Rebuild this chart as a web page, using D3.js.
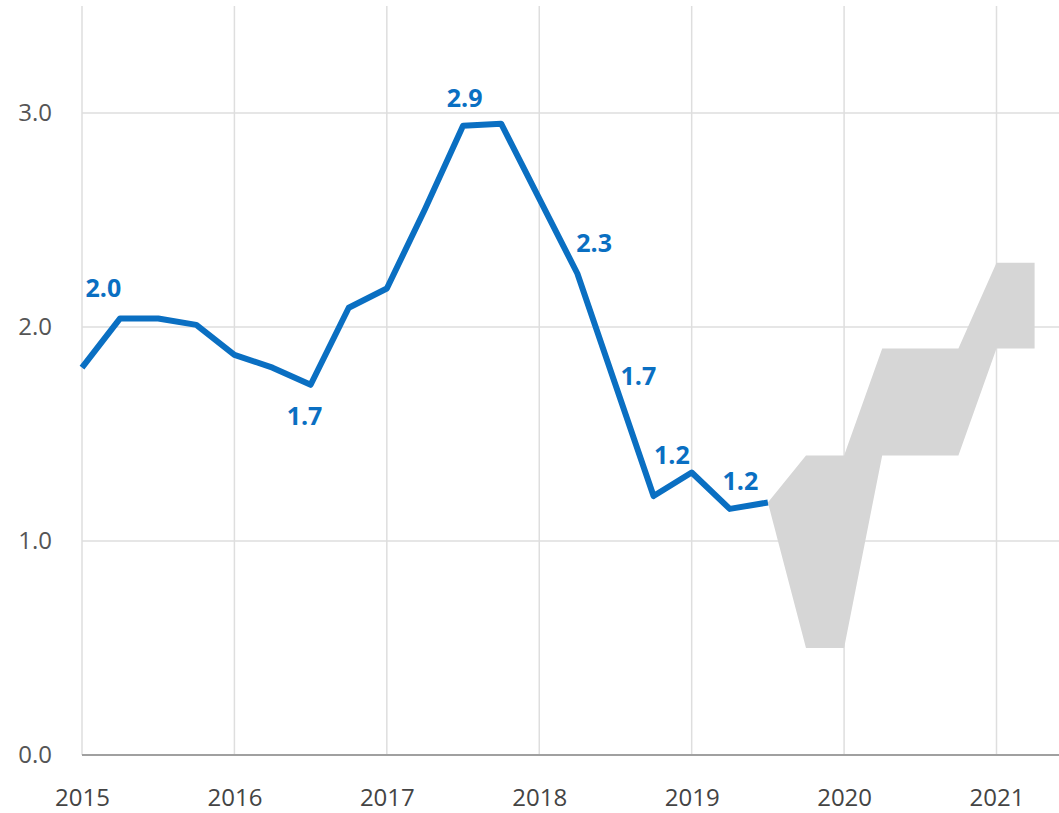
<!DOCTYPE html>
<html>
<head>
<meta charset="utf-8">
<script src="https://cdn.jsdelivr.net/npm/d3@7"></script>
<style>
  html, body { margin: 0; padding: 0; background: #fff; }
  svg text { font-family: "Open Sans", sans-serif; }
</style>
</head>
<body>
<div id="chart"></div>
<script>
// quarterly observations (decimal year) and values
var dates = [2015.0, 2015.25, 2015.5, 2015.75, 2016.0, 2016.25, 2016.5, 2016.75,
             2017.0, 2017.25, 2017.5, 2017.75, 2018.0, 2018.25, 2018.5, 2018.75,
             2019.0, 2019.25, 2019.5];
var values = [1.81, 2.04, 2.04, 2.01, 1.87, 1.81, 1.73, 2.09,
              2.18, 2.55, 2.94, 2.95, 2.6, 2.25, 1.73, 1.21,
              1.32, 1.15, 1.18];

// forecast range (grey band)
var bandDates = [2019.5, 2019.75, 2020.0, 2020.25, 2020.5, 2020.75, 2021.0, 2021.25];
var bandHigh  = [1.18, 1.4, 1.4, 1.9, 1.9, 1.9, 2.3, 2.3];
var bandLow   = [1.18, 0.5, 0.5, 1.4, 1.4, 1.4, 1.9, 1.9];

// value labels and where they sit (in data units)
var labelText  = ["2.0", "1.7", "2.9", "2.3", "1.7", "1.2", "1.2"];
var labelDates = [2015.14, 2016.46, 2017.51, 2018.36, 2018.65, 2018.87, 2019.32];
var labelVals  = [2.14, 1.54, 3.03, 2.35, 1.73, 1.36, 1.24];

var yearTicks = [2015, 2016, 2017, 2018, 2019, 2020, 2021];
var valueTicks = [0, 1, 2, 3];

var w = 1059;
var h = 813;

var svg = d3.select("#chart")
  .append("svg")
  .attr("width", w)
  .attr("height", h);

var x = d3.scaleLinear().domain([2015, 2021.41]).range([82, 1059]);
var y = d3.scaleLinear().domain([0, 3.5]).range([755, 6]);

// gridlines
svg.append("g")
  .selectAll("line")
  .data(yearTicks)
  .enter()
  .append("line")
  .attr("x1", function(d) { return x(d); })
  .attr("x2", function(d) { return x(d); })
  .attr("y1", y(3.5))
  .attr("y2", y(0))
  .attr("stroke", "#dedede")
  .attr("stroke-width", 1.5);

svg.append("g")
  .selectAll("line")
  .data(valueTicks.filter(function(d) { return d > 0; }))
  .enter()
  .append("line")
  .attr("x1", x(2015))
  .attr("x2", w)
  .attr("y1", function(d) { return y(d); })
  .attr("y2", function(d) { return y(d); })
  .attr("stroke", "#dedede")
  .attr("stroke-width", 1.5);

// band
var band = bandDates.map(function(d, i) { return { x: d, hi: bandHigh[i], lo: bandLow[i] }; });
svg.append("path")
  .datum(band)
  .attr("fill", "#d6d6d6")
  .attr("d", d3.area()
    .x(function(d) { return x(d.x); })
    .y0(function(d) { return y(d.lo); })
    .y1(function(d) { return y(d.hi); }));

// line
var pts = dates.map(function(d, i) { return { x: d, v: values[i] }; });
svg.append("path")
  .datum(pts)
  .attr("fill", "none")
  .attr("stroke", "#0A6FC2")
  .attr("stroke-width", 6)
  .attr("stroke-linejoin", "round")
  .attr("d", d3.line()
    .x(function(d) { return x(d.x); })
    .y(function(d) { return y(d.v); }));

// bottom axis
var xAxis = svg.append("g")
  .attr("transform", "translate(0," + y(0) + ")")
  .call(d3.axisBottom(x).tickValues(yearTicks).tickFormat(d3.format("d")).tickSize(0).tickPadding(34));
xAxis.select(".domain").remove();
xAxis.append("line")
  .attr("x1", x(2015)).attr("x2", w)
  .attr("stroke", "#a0a0a0").attr("stroke-width", 2);
xAxis.selectAll("text")
  .attr("font-size", "24px")
  .attr("fill", "#444")
  .attr("font-family", "Open Sans, sans-serif");

// left axis labels
var yAxis = svg.append("g")
  .attr("transform", "translate(" + x(2015) + ",0)")
  .call(d3.axisLeft(y).tickValues(valueTicks).tickFormat(d3.format(".1f")).tickSize(0).tickPadding(30));
yAxis.select(".domain").remove();
yAxis.selectAll("text")
  .attr("font-size", "24px")
  .attr("fill", "#555")
  .attr("font-family", "Open Sans, sans-serif");

// value labels
svg.append("g")
  .selectAll("text")
  .data(labelText)
  .enter()
  .append("text")
  .text(function(d) { return d; })
  .attr("x", function(d, i) { return x(labelDates[i]); })
  .attr("y", function(d, i) { return y(labelVals[i]); })
  .attr("text-anchor", "middle")
  .attr("font-size", "25px")
  .attr("font-weight", "bold")
  .attr("fill", "#0A6FC2");
</script>
</body>
</html>
